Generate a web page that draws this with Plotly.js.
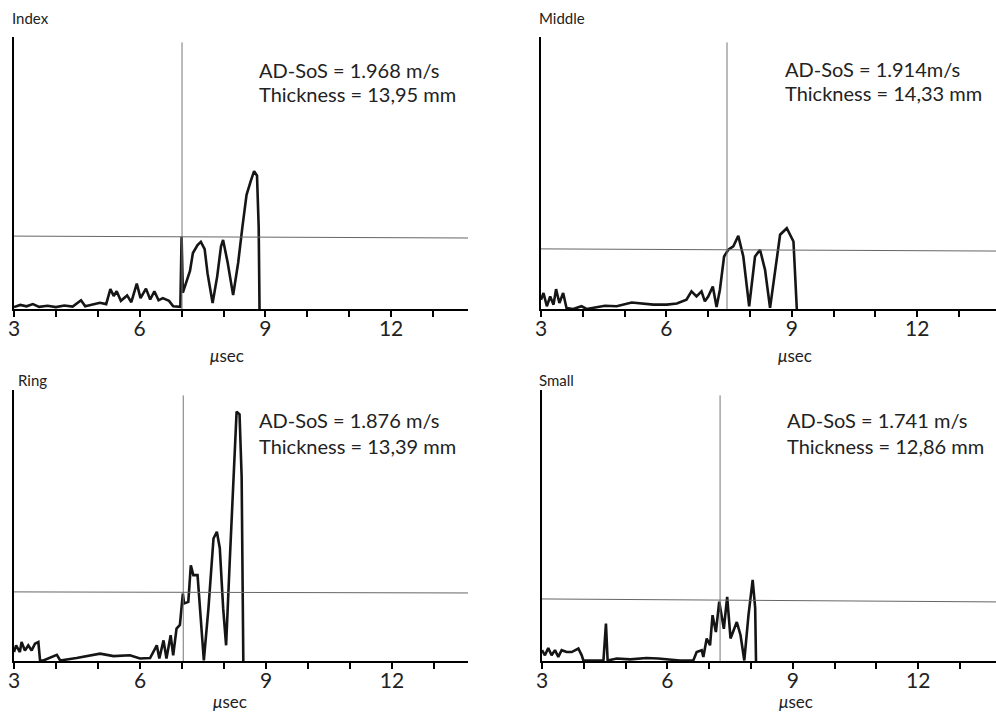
<!DOCTYPE html>
<html>
<head>
<meta charset="utf-8">
<script src="https://cdn.plot.ly/plotly-3.0.1.min.js"></script>
<style>html,body{margin:0;padding:0;background:#fff;}#chart{width:996px;height:712px;}</style>
</head>
<body>
<div id="chart"></div>
<script>
// ---- data (µsec, relative amplitude 0-100) ----
const panelNames = ["Index", "Middle", "Ring", "Small"];
const sosLabels = ["AD-SoS = 1.968 m/s", "AD-SoS = 1.914m/s", "AD-SoS = 1.876 m/s", "AD-SoS = 1.741 m/s"];
const thicknessLabels = ["Thickness = 13,95 mm", "Thickness = 14,33 mm", "Thickness = 13,39 mm", "Thickness = 12,86 mm"];
const tickValues = [3,4,5,6,7,8,9,10,11,12,13];
const tickLabels = ["3","","","6","","","9","","","12",""];

const indexX = [3.0,3.15,3.3,3.45,3.6,3.8,4.0,4.2,4.4,4.6,4.7,4.9,5.05,5.2,5.3,5.38,5.45,5.55,5.7,5.8,5.93,6.02,6.15,6.25,6.35,6.45,6.55,6.7,6.8,6.97,7.0,7.03,7.1,7.2,7.27,7.38,7.46,7.55,7.62,7.74,7.85,7.94,7.99,8.1,8.23,8.35,8.45,8.55,8.65,8.73,8.8,8.84,8.86];
const indexY = [0.7,1.5,1.0,1.8,0.8,1.2,0.7,1.3,0.9,3.2,1.0,1.6,2.3,1.8,7.3,4.8,6.5,3.0,5.0,2.5,9.3,4.0,7.5,3.5,6.5,3.2,4.0,3.0,1.0,0.8,26.6,6.0,9.5,14,20.6,23.5,24.7,22,13,2.2,12,23,25.4,17,5.1,17,30,42,47,50.7,49,30,0];

const middleX = [3.0,3.06,3.14,3.22,3.30,3.36,3.44,3.53,3.61,3.77,3.97,4.09,4.53,4.81,5.17,5.37,5.69,6.01,6.25,6.48,6.60,6.72,6.84,6.92,7.00,7.11,7.20,7.28,7.38,7.48,7.60,7.72,7.84,7.98,8.12,8.24,8.36,8.48,8.60,8.72,8.88,9.04,9.12];
const middleY = [3.4,5.9,1.0,4.6,1.6,7.3,2.2,5.9,0.4,0,1.0,0,1.2,1.0,2.4,2.0,1.6,1.6,2.0,3.4,6.5,4.6,6.5,2.8,4.6,8.3,0.7,7.1,19.3,21.8,23,26.9,19.3,1.0,19.3,21.8,14.4,0.4,14.4,27.3,29.7,24.8,0];

const ringX = [3.0,3.05,3.14,3.18,3.26,3.34,3.42,3.50,3.58,3.62,3.70,4.02,4.10,4.49,5.05,5.37,5.76,6.0,6.24,6.40,6.46,6.56,6.63,6.73,6.79,6.87,6.95,7.02,7.05,7.15,7.21,7.27,7.37,7.43,7.52,7.63,7.75,7.83,7.90,7.98,8.05,8.14,8.22,8.30,8.37,8.42,8.46];
const ringY = [3.3,5.8,3.3,7.0,3.9,5.8,3.9,6.4,7.0,0.2,0.2,2.3,0.2,1.1,2.7,1.8,2.1,0.9,1.1,5.8,0.9,7.6,0.9,9.5,2.1,12,13.3,24.9,21.2,21.8,35.3,31.7,31.7,19.5,0.2,19.5,45.2,47.7,41.6,19.5,5.8,37.9,62.5,92,91,68,0];

const smallX = [3.0,3.07,3.15,3.23,3.31,3.39,3.47,3.59,3.71,3.87,3.95,3.99,4.47,4.53,4.57,4.79,5.11,5.50,5.78,6.30,6.62,6.70,6.82,6.86,6.94,7.02,7.08,7.16,7.24,7.31,7.35,7.43,7.51,7.66,7.75,7.84,7.94,8.04,8.10,8.12];
const smallY = [4.0,2.1,4.8,2.1,4.0,1.5,4.0,3.3,3.3,4.6,2.1,0.2,0.2,13.8,0.2,0.9,0.6,1.1,0.9,0.2,0.2,3.3,4.0,1.5,8.3,5.8,16.9,10.7,21.9,14.4,11.9,23.7,8.3,14.4,9.5,0.2,16.9,29.9,19.5,0];

const cursorX = [7.01, 7.45, 7.03, 7.26];
const thresholdLeft = [26.8, 22.1, 25.5, 22.9];
const thresholdRight = [26.1, 21.3, 25.1, 21.8];

const seriesX = [indexX, middleX, ringX, smallX];
const seriesY = [indexY, middleY, ringY, smallY];

// ---- layout geometry (pixels) ----
const W = 996, H = 712;
const geom = [
  {x0: 14, x1: 468, yAxis: 309, yTop: 37, unit: 41.9, title: [10, 18], text: [257, 70, 94], xt: [227, 355]},
  {x0: 541, x1: 996, yAxis: 309, yTop: 37, unit: 41.8, title: [537, 18], text: [783, 69, 93], xt: [795, 355]},
  {x0: 14, x1: 468, yAxis: 661, yTop: 390, unit: 42.0, title: [16, 380], text: [257, 420, 446], xt: [230, 701]},
  {x0: 542, x1: 996, yAxis: 661, yTop: 390, unit: 41.8, title: [537, 380], text: [785, 420, 446], xt: [796, 701]}
];

const FONT = "Lato, 'DejaVu Sans', sans-serif";
const traces = [];
const layout = {
  width: W, height: H,
  margin: {l: 0, r: 0, t: 0, b: 0},
  paper_bgcolor: "#fff", plot_bgcolor: "rgba(0,0,0,0)",
  showlegend: false,
  font: {family: FONT, color: "#222"},
  annotations: [], shapes: []
};

geom.forEach((g, i) => {
  const n = i + 1;
  const xa = n === 1 ? "x" : "x" + n;
  const ya = n === 1 ? "y" : "y" + n;
  const xo = "x" + (n + 4);  // overlay axis carrying the tick marks
  const xr = [3, 3 + (g.x1 - g.x0) / g.unit];
  traces.push({
    x: seriesX[i], y: seriesY[i], xaxis: xa, yaxis: ya,
    type: "scatter", mode: "lines",
    line: {color: "#151515", width: 2.6},
    hoverinfo: "skip", cliponaxis: false
  });
  traces.push({
    x: [cursorX[i], cursorX[i]], y: [0, 98], xaxis: xa, yaxis: ya,
    type: "scatter", mode: "lines", line: {color: "#777", width: 1}, hoverinfo: "skip"
  });
  traces.push({
    x: [3, xr[1]], y: [thresholdLeft[i], thresholdRight[i]], xaxis: xa, yaxis: ya,
    type: "scatter", mode: "lines", line: {color: "#666", width: 1}, hoverinfo: "skip"
  });
  traces.push({
    x: [xr[0]], y: [0], xaxis: xo, yaxis: ya, type: "scatter", mode: "markers",
    marker: {opacity: 0, size: 1}, hoverinfo: "skip"
  });
  layout["xaxis" + (n === 1 ? "" : n)] = {
    domain: [g.x0 / W, g.x1 / W], anchor: ya, range: xr,
    showgrid: false, zeroline: false, showline: true, linecolor: "#000", linewidth: 2,
    ticks: "", tickmode: "array", tickvals: tickValues, ticktext: tickLabels,
    ticklabelstandoff: 0,
    tickfont: {size: 21, family: FONT, color: "#222"}, fixedrange: true
  };
  layout["xaxis" + (n + 4)] = {
    domain: [g.x0 / W, g.x1 / W], anchor: ya, range: xr, overlaying: xa,
    showgrid: false, zeroline: false, showline: false,
    ticks: "outside", ticklen: 7, tickwidth: 2, tickcolor: "#000",
    tickmode: "array", tickvals: tickValues, showticklabels: false, fixedrange: true
  };
  layout["yaxis" + (n === 1 ? "" : n)] = {
    domain: [1 - g.yAxis / H, 1 - g.yTop / H], anchor: xa, range: [0, 100],
    showgrid: false, zeroline: false, showline: true, linecolor: "#000", linewidth: 2,
    showticklabels: false, ticks: "", fixedrange: true
  };
  const ann = (txt, px, py, size, xanchor) => ({
    text: txt, xref: "paper", yref: "paper", x: px / W, y: 1 - py / H,
    xanchor: xanchor, yanchor: "middle", showarrow: false,
    font: {size: size, family: FONT, color: "#222"}
  });
  layout.annotations.push(ann(panelNames[i], g.title[0], g.title[1], 15, "left"));
  layout.annotations.push(ann(sosLabels[i], g.text[0], g.text[1], 20, "left"));
  layout.annotations.push(ann(thicknessLabels[i], g.text[0], g.text[2], 20, "left"));
  layout.annotations.push(ann("<i>μ</i>sec", g.xt[0], g.xt[1], 17, "center"));
});

Plotly.newPlot("chart", traces, layout, {staticPlot: true, displayModeBar: false});
</script>
</body>
</html>
